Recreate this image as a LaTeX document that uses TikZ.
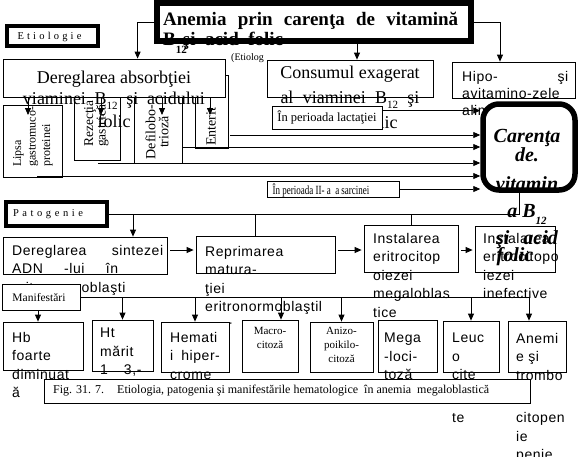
\documentclass[tikz,border=0pt]{standalone}
\usepackage{graphicx}
\usepackage{fontspec}
\setmainfont{Liberation Serif}
\newfontfamily\widesans[LetterSpace=4]{Liberation Sans}
\usetikzlibrary{arrows.meta,positioning,calc}

\newcommand{\lowsub}[2][5pt]{\raisebox{-#1}{\fontsize{11}{11}\selectfont #2}}

\begin{document}
\begin{tikzpicture}[
    x=1pt, y=-1pt,
    box/.style={rectangle, draw, fill=white, line width=0.8pt, inner sep=0pt},
    heavy/.style={box, line width=3.5pt},
    wtext/.style={inner sep=0pt, anchor=north west, align=left, font=\widesans\fontsize{14}{18.5}\selectfont},
    btext/.style={inner sep=0pt, anchor=north, align=center, font=\fontsize{18}{21}\selectfont},
    stext/.style={inner sep=0pt, align=center, font=\fontsize{11.5}{14}\selectfont},
    vtext/.style={inner sep=0pt, rotate=90, anchor=north west, align=left},
    arrow/.style={-{Triangle[length=7pt,width=6pt]}, line width=0.8pt},
    link/.style={line width=0.8pt}
]
\useasboundingbox[fill=white] (0,0) rectangle (579,456);

% titlu
\node[box, line width=6pt, minimum width=314pt, minimum height=38pt] (title) at (314,22) {};
\node[inner sep=0pt, anchor=north west, align=left, font=\bfseries\fontsize{19}{20}\selectfont] (titletxt) at (163,12.2)
  {\makebox[295pt][s]{Anemia prin carenţa de vitamină}\\B\rlap{\lowsub[8pt]{12}}\hspace{7pt}şi\ \ acid\ \ folic};

% etiologie
\node[heavy, minimum width=91pt, minimum height=20pt] (etio) at (52.5,36) {};
\node[stext, font=\fontsize{10.5}{12}\selectfont] (etiotxt) at (49.5,36.5) {\makebox[64pt][s]{E t i o l o g i e}};

\node[box, minimum width=59pt, minimum height=72pt] (lipsa) at (32.5,141) {};
\node[vtext, font=\fontsize{12}{14.5}\selectfont] (lipsatxt) at (13,167) {Lipsa\\gastromuco-\\proteinei};
\node[box, minimum width=46pt, minimum height=72pt] (rez) at (97,124) {};
\node[vtext, font=\fontsize{13.5}{12.5}\selectfont] (reztxt) at (84,147) {Rezecţia\\gastrică};
\node[box, minimum width=48pt, minimum height=78pt] (defilo) at (158,124) {};
\node[vtext, anchor=center, align=center, font=\fontsize{14}{13}\selectfont] (defilotxt) at (157,132) {Defilobo-\\trioză};
\node[box, minimum width=33pt, minimum height=73pt] (enter) at (211.5,111.5) {};
\node[vtext, anchor=west, font=\fontsize{14}{14}\selectfont] (entertxt) at (211,146) {Enterit};

\node[box, minimum width=222pt, minimum height=38pt] (der) at (114,78) {};
\node[btext] (dertxt) at (114,70.6) {Dereglarea absorbţiei\\\makebox[182pt][s]{viaminei B\lowsub{12} şi acidului}\\[2pt]folic};

\node[inner sep=0pt, anchor=base west, font=\fontsize{10}{12}\selectfont] (etinote) at (231,60) {(Etiolog};
\node[box, minimum width=166pt, minimum height=37pt] (cons) at (350,78.5) {};
\node[btext] (constxt) at (350,65.7) {Consumul exagerat\\[4pt]\makebox[139pt][s]{al viaminei B\lowsub{12} şi}\\[4pt]acidului folic};
\node[box, minimum width=110pt, minimum height=23pt] (lact) at (327,117.5) {};
\node[inner sep=0pt, font=\fontsize{12.5}{14}\selectfont] (lacttxt) at (327,117) {În perioada lactaţiei};

\node[box, minimum width=123pt, minimum height=36pt] (hipo) at (513.5,80) {};
\node[wtext, font=\widesans\fontsize{14}{17}\selectfont] (hipotxt) at (462,70.8) {\makebox[106pt][s]{Hipo- şi}\\avitamino-zele\\alimentare};

\node[box, line width=5.5pt, rounded corners=16pt, minimum width=92pt, minimum height=86pt] (car) at (529,147) {};

\node[box, minimum width=132pt, minimum height=16pt] (sarc) at (333,189) {};
\node[inner sep=0pt, font=\fontsize{12.5}{14}\selectfont] (sarctxt) at (321,190) {\scalebox{0.72}[1]{În perioada II- a\ \ a sarcinei}};

% patogenie
\node[heavy, minimum width=101pt, minimum height=24pt] (pato) at (56.5,214) {};
\node[stext, font=\fontsize{10.5}{12}\selectfont] (patotxt) at (48,214.5) {\makebox[70pt][s]{P a t o g e n i e}};
\node[box, minimum width=164pt, minimum height=37pt] (sint) at (85,255.5) {};
\node[wtext] (sinttxt) at (12,244.8) {\makebox[151pt][s]{Dereglarea sintezei}\\\makebox[106pt][s]{ADN -lui în}\\eritronormoblaşti};
\node[box, minimum width=139pt, minimum height=37pt] (repr) at (265.5,254.5) {};
\node[wtext] (reprtxt) at (205,245.8) {Reprimarea\\matura-\\ţiei\\eritronormoblaştil\\oror};
\node[box, minimum width=94pt, minimum height=47pt] (inst) at (411,248.5) {};
\node[wtext] (insttxt) at (373,232.8) {Instalarea\\eritrocitop\\oiezei\\megaloblas\\tice};
\node[box, minimum width=80pt, minimum height=46pt] (inef) at (515,249) {};
\node[wtext] (ineftxt) at (483,232.8) {Instalarea\\eritrocitopo\\iezei\\inefective};

\node[inner sep=0pt, anchor=north, align=center, font=\bfseries\itshape\fontsize{20}{22}\selectfont] (cartxt) at (527,129.5)
  {Carenţa\\[-3pt]de.\\[7pt]vitamin\\[5pt]a B\lowsub[7pt]{12}\hspace*{32pt}\\[5pt]şi\hspace{14pt}acid\\[-5pt]folic\hspace*{24pt}};

% manifestari
\node[box, minimum width=78pt, minimum height=26pt] (manif) at (41,297) {};
\node[stext] (maniftxt) at (39,297.5) {Manifestări};
\node[box, minimum width=80pt, minimum height=48pt] (hb) at (43,346) {};
\node[box, minimum width=61pt, minimum height=51pt] (ht) at (122.5,345.5) {};
\node[box, minimum width=68pt, minimum height=50pt] (hem) at (195,347) {};
\node[box, minimum width=56pt, minimum height=52pt] (macro) at (270,346) {};
\node[box, minimum width=63pt, minimum height=50pt] (aniz) at (341.5,347) {};
\node[box, minimum width=59pt, minimum height=52pt] (mega) at (407.5,346) {};
\node[box, minimum width=56pt, minimum height=51pt] (leuc) at (471,346.5) {};
\node[box, minimum width=58pt, minimum height=51pt] (anem) at (537,346.5) {};

\node[wtext] (hbtxt) at (12,331.8) {Hb\\foarte\\diminuat\\ă};
\node[wtext] (httxt) at (100,327.8) {Ht\\mărit\\1\hspace{16pt}3,-};
\node[wtext] (hemtxt) at (170,331.8) {Hemati\\i\hspace{8pt}hiper-\\crome};
\node[stext, anchor=north, font=\fontsize{11}{13.5}\selectfont] (macrotxt) at (270,327.5) {Macro-\\citoză};
\node[stext, anchor=north, font=\fontsize{11}{14}\selectfont] (aniztxt) at (341.5,327) {Anizo-\\poikilo-\\citoză};
\node[wtext] (megatxt) at (384,332.8) {Mega\\-loci-\\toză};
\node[wtext] (leuctxt) at (452,332.8) {Leuc\\o\\cite\\[24pt]te};
\node[wtext] (anemtxt) at (516,332.8) {Anemi\\e şi\\trombo\\[24pt]citopen\\ie\\penie};

\node[box, minimum width=486pt, minimum height=24pt] (fig) at (287,391) {};
\node[inner sep=0pt, anchor=west, font=\fontsize{12}{14}\selectfont] (figtxt) at (53,391)
  {Fig. 31. 7.\hspace{13pt}Etiologia, patogenia şi manifestările hematologice\ \ în anemia\ \ megaloblastică};

% legaturi
\coordinate (a0) at ($(der.north west)+(135,0)$);
\coordinate (c1) at ($(cons.north)+(7,0)$);
\coordinate (c2) at ($(hipo.north)+(-13.5,0)$);
\draw[arrow] (title.west) -| (a0);
\draw[arrow] (c1 |- title.south) -- (c1);
\draw[arrow] (title.east) -| (c2);

\foreach \n/\x in {a1/28, a2/101, a3/162, a4/210} {
  \coordinate (\n) at (\x,115);
  \draw[arrow] (\n |- der.south) -- (\n);
}
\foreach \n/\x/\y in {h1/230/135, h2/182/147, h3/98/163, h4/37/176} {
  \coordinate (\n) at (\x,\y);
  \draw[arrow] (\n) -- (\n -| car.west);
}
\coordinate (h0) at ($(lact.north east)+(0,5)$);
\draw[arrow] (h0) -- (h0 -| car.west);
\draw[arrow] (sarc.east) -- (sarc.east -| car.west);

\coordinate (cj) at ($(car.south)+(-10,0)$);
\draw[link] (pato.east) -| (cj);
\coordinate (d1) at ($(sint.north)+(48,0)$);
\coordinate (d2) at ($(repr.north)+(-10.5,0)$);
\draw[arrow] (d1 |- pato.east) -- (d1);
\draw[link] (d2 |- pato.east) -- (d2);
\draw[link] (inst.north |- pato.east) -- (inst.north);

\coordinate (prow) at ($(sint.east)+(0,-5.5)$);
\draw[arrow, shorten <=3pt, shorten >=2pt] (sint.east |- prow) -- (repr.west |- prow);
\draw[arrow, shorten <=3pt, shorten >=2pt] (repr.east |- prow) -- (inst.west |- prow);
\draw[arrow, shorten <=3pt, shorten >=2pt] (inst.east |- prow) -- (inef.west |- prow);

\coordinate (mh) at ($(hb.north)+(-5,0)$);
\coordinate (mm) at ($(macro.north)+(11,0)$);
\coordinate (me) at ($(anem.north)+(-8,0)$);
\draw[link] (manif.east) -- (manif.east -| me);
\draw[arrow] (mh |- manif.south) -- (mh);
\foreach \b in {ht, hem, aniz, leuc}
  \draw[arrow] (\b.north |- manif.east) -- (\b.north);
\draw[arrow] (mm |- manif.east) -- (mm);
\draw[arrow] (me |- manif.east) -- (me);
\end{tikzpicture}
\end{document}
